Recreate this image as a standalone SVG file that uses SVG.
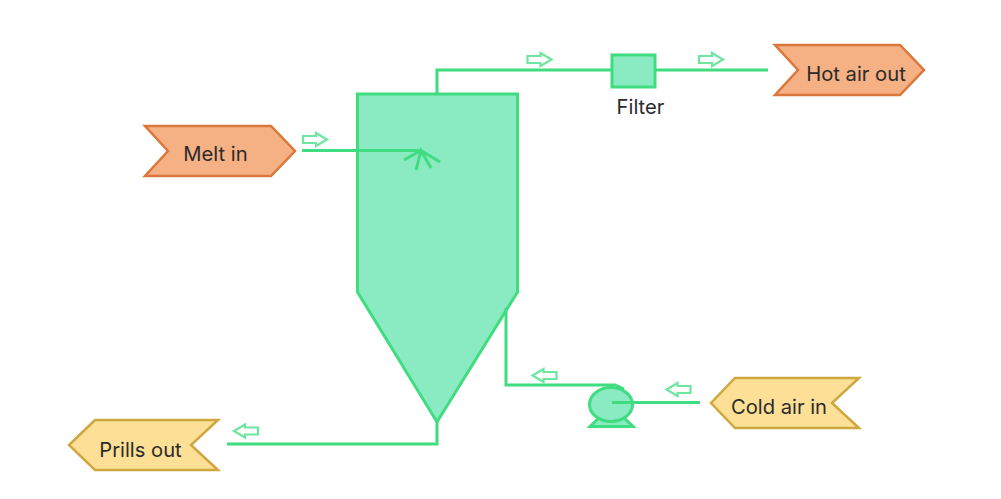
<svg xmlns="http://www.w3.org/2000/svg" width="1001" height="499" viewBox="0 0 1001 499">
<style>
.lbl{font-family:"Inter","Liberation Sans",sans-serif;font-size:20.200px;fill:#2b2b2b;text-anchor:middle}
.hot{fill:#f5b083;stroke:#d9773c;stroke-width:2.500}
.cold{fill:#fedf96;stroke:#cfa73f;stroke-width:2.500}
.eq{fill:#8aebc3;stroke:#3fdc80;stroke-width:3}
.ln{fill:none;stroke:#3fdc80;stroke-width:3}
.fl{fill:#fff;stroke:#6fe69f;stroke-width:2.200}
</style>
<defs>
<path id="ar" d="M-12-3.500H1V-6.500L12 0 1 6.500V3.500H-12Z" class="fl"/>
</defs>
<rect width="1001" height="499" fill="#fff"/>
<g id="vessel"><path class="eq" d="M357.500 94H517.500V292L437 422 357.500 292Z"/></g>
<g id="pump">
<path class="eq" d="M590 426.500L600 417H623L633 426.500Z"/>
<ellipse class="eq" cx="611" cy="404.500" rx="21.500" ry="17"/>
</g>
<g id="connectors">
<path class="ln" d="M437 94V70H768"/>
<path class="ln" d="M302 150.500H421"/>
<path class="ln" d="M404 160L421 150.500 440 162M416 170L421 150.500 431 168"/>
<path class="ln" d="M506 308V385H615L624 389"/>
<path class="ln" d="M612 402.500H700"/>
<path class="ln" d="M437 420V444H227"/>
</g>
<g id="filter"><rect class="eq" x="612" y="55" width="43" height="32"/><text class="lbl" x="640.500" y="114">Filter</text></g>
<g id="flow-arrows">
<use href="#ar" x="315" y="139.500"/>
<use href="#ar" x="539.500" y="59.500"/>
<use href="#ar" x="711" y="59.500"/>
<use href="#ar" transform="rotate(180 544.500 375.500)" x="544.500" y="375.500"/>
<use href="#ar" transform="rotate(180 678.500 389.500)" x="678.500" y="389.500"/>
<use href="#ar" transform="rotate(180 246 431)" x="246" y="431"/>
</g>
<g id="melt-in"><path class="hot" d="M145 126H271L295 151 271 176H145L168 151Z"/><text class="lbl" x="215.500" y="161">Melt in</text></g>
<g id="hot-air-out"><path class="hot" d="M775 45H900L924 70 900 95H775L798 70Z"/><text class="lbl" x="856" y="80.500">Hot air out</text></g>
<g id="cold-air-in"><path class="cold" d="M859 378H735L711 403 735 428H859L832 403Z"/><text class="lbl" x="779" y="413.500">Cold air in</text></g>
<g id="prills-out"><path class="cold" d="M218 420H95L69 445 95 470H218L191 445Z"/><text class="lbl" x="140.500" y="457">Prills out</text></g>
</svg>
